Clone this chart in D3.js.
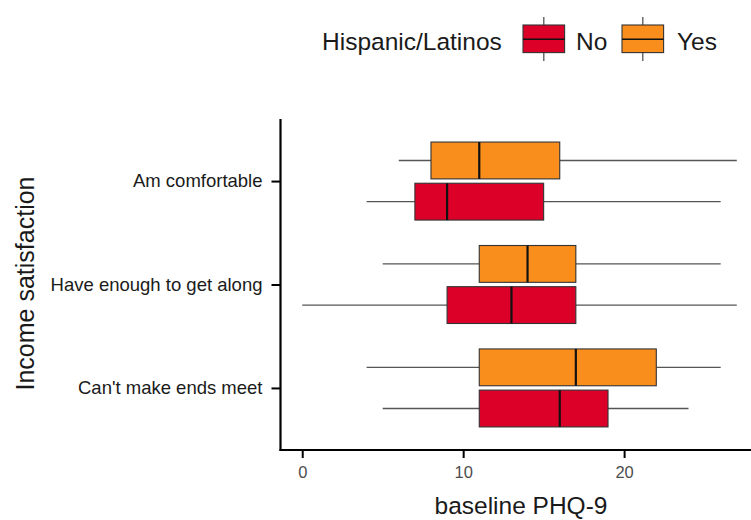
<!DOCTYPE html>
<html>
<head>
<meta charset="utf-8">
<script src="https://cdn.jsdelivr.net/npm/d3@7"></script>
<style>
  html, body { margin: 0; padding: 0; background: #fff; }
  svg { display: block; font-family: "Liberation Sans", Arial, Helvetica, sans-serif; }
</style>
</head>
<body>
<svg id="chart" width="751" height="520"></svg>
<script>
// Income satisfaction groups, top to bottom
const categories = ["Am comfortable", "Have enough to get along", "Can't make ends meet"];
const groups = ["No", "Yes"];
const groupColors = ["#DC0029", "#F98E1D"];

// Five-number summaries of baseline PHQ-9: [lowerWhisker, q1, median, q3, upperWhisker]
const statsNo = [
  [4, 7, 9, 15, 26],
  [0, 9, 13, 17, 27],
  [5, 11, 16, 19, 24]
];
const statsYes = [
  [6, 8, 11, 16, 27],
  [5, 11, 14, 17, 26],
  [4, 11, 17, 22, 26]
];
const xTicks = [0, 10, 20];

const svg = d3.select("#chart");

// Panel geometry
const panel = { left: 280.5, top: 119, bottom: 450 };

const x = d3.scaleLinear().domain([-1.35, 28.35]).range([panel.left, 758.5]);
// Discrete axis: category positions 1..3 with 0.6 expansion on both sides
const y = d3.scaleLinear().domain([3.6, 0.4]).range([panel.top, panel.bottom]);
const catPos = (i) => categories.length - i;

const boxHalf = 0.178;   // half box height in category units
const dodge = 0.199;     // offset of each group from the category centre

const rows = [];
categories.forEach((c, i) => {
  [statsNo[i], statsYes[i]].forEach((s, g) => {
    const centre = catPos(i) + (g === 1 ? dodge : -dodge);
    rows.push({ cat: c, group: groups[g], color: groupColors[g], s, centre });
  });
});

const boxes = svg.append("g").attr("class", "boxes");
rows.forEach(r => {
  const g = boxes.append("g");
  const yc = y(r.centre);
  // whiskers
  g.append("line")
    .attr("x1", x(r.s[0])).attr("x2", x(r.s[1]))
    .attr("y1", yc).attr("y2", yc)
    .attr("stroke", "#555").attr("stroke-width", 1.3);
  g.append("line")
    .attr("x1", x(r.s[3])).attr("x2", x(r.s[4]))
    .attr("y1", yc).attr("y2", yc)
    .attr("stroke", "#555").attr("stroke-width", 1.3);
  // box
  g.append("rect")
    .attr("x", x(r.s[1]))
    .attr("y", y(r.centre + boxHalf))
    .attr("width", x(r.s[3]) - x(r.s[1]))
    .attr("height", y(r.centre - boxHalf) - y(r.centre + boxHalf))
    .attr("fill", r.color)
    .attr("stroke", "#333").attr("stroke-width", 1.1);
  // median
  g.append("line")
    .attr("x1", x(r.s[2])).attr("x2", x(r.s[2]))
    .attr("y1", y(r.centre + boxHalf)).attr("y2", y(r.centre - boxHalf))
    .attr("stroke", "#111").attr("stroke-width", 2.2);
});

// Axes
const xAxis = d3.axisBottom(x).tickValues(xTicks).tickSize(8).tickPadding(8).tickFormat(d3.format("d"));
const gx = svg.append("g").attr("transform", `translate(0,${panel.bottom})`).call(xAxis);
gx.select(".domain").remove();
gx.append("line").attr("x1", panel.left - 1).attr("x2", 751).attr("y1", 0).attr("y2", 0)
  .attr("stroke", "#000").attr("stroke-width", 2.2);
gx.selectAll(".tick line").attr("stroke", "#000").attr("stroke-width", 2);
gx.selectAll(".tick text").attr("fill", "#4d4d4d").style("font-size", "16.5px")
  .style("font-family", "Liberation Sans, Arial, sans-serif");

const yAxis = d3.axisLeft(y).tickValues(categories.map((c, i) => catPos(i)))
  .tickFormat((d) => categories[categories.length - d]).tickSize(9).tickPadding(9);
const gy = svg.append("g").attr("transform", `translate(${panel.left},0)`).call(yAxis);
gy.select(".domain").remove();
gy.append("line").attr("x1", 0).attr("x2", 0).attr("y1", panel.top).attr("y2", panel.bottom + 1)
  .attr("stroke", "#000").attr("stroke-width", 2.2);
gy.selectAll(".tick line").attr("stroke", "#000").attr("stroke-width", 2);
gy.selectAll(".tick text").attr("fill", "#1a1a1a").style("font-size", "18.5px")
  .style("font-family", "Liberation Sans, Arial, sans-serif");

// Axis titles
svg.append("text")
  .attr("x", 521).attr("y", 514)
  .attr("text-anchor", "middle")
  .style("font-size", "24.5px").attr("fill", "#1a1a1a")
  .text("baseline PHQ-9");

svg.append("text")
  .attr("transform", "translate(34,283.5) rotate(-90)")
  .attr("text-anchor", "middle")
  .style("font-size", "25px").attr("fill", "#1a1a1a")
  .text("Income satisfaction");

// Legend
const legend = svg.append("g");
legend.append("text").attr("x", 322).attr("y", 49.5)
  .style("font-size", "24.5px").attr("fill", "#1a1a1a").text("Hispanic/Latinos");

const keyX = [523, 622];
const labelX = [576, 677];
groups.forEach((gname, i) => {
  const k = legend.append("g");
  const cx = keyX[i] + 20.8;
  k.append("line").attr("x1", cx).attr("x2", cx).attr("y1", 17).attr("y2", 61)
    .attr("stroke", "#555").attr("stroke-width", 1.3);
  k.append("rect").attr("x", keyX[i]).attr("y", 25).attr("width", 41.6).attr("height", 27.6)
    .attr("fill", groupColors[i]).attr("stroke", "#333").attr("stroke-width", 1.1);
  k.append("line").attr("x1", keyX[i]).attr("x2", keyX[i] + 41.6).attr("y1", 39.3).attr("y2", 39.3)
    .attr("stroke", "#111").attr("stroke-width", 1.6);
  k.append("text").attr("x", labelX[i]).attr("y", 49.5)
    .style("font-size", "24.5px").attr("fill", "#1a1a1a").text(gname);
});
</script>
</body>
</html>
